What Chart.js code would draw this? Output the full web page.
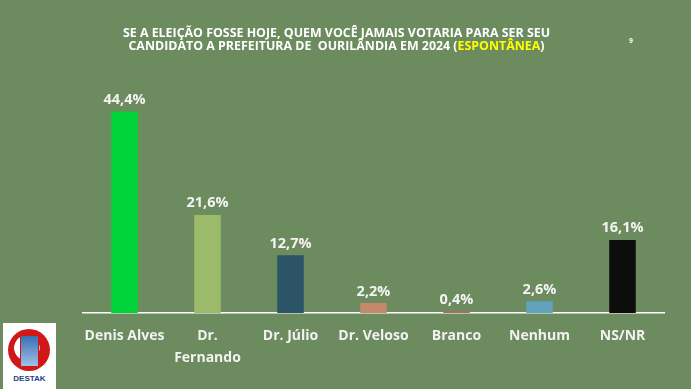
<!DOCTYPE html>
<html>
<head>
<meta charset="utf-8">
<script src="https://cdn.jsdelivr.net/npm/chart.js@4.4.1/dist/chart.umd.min.js"></script>
<style>
  html, body { margin: 0; padding: 0; background: #6C8B5E; }
  #wrap { position: relative; width: 691px; height: 389px; overflow: hidden; background: #6C8B5E; }
  canvas { position: absolute; left: 0; top: 0; }
  .title { position: absolute; left: 0; width: 673px; text-align: center; color: #FFFFFF; line-height: 14px;
           font-family: "Open Sans", sans-serif; font-weight: bold; font-size: 12.4px; white-space: pre; }
  .yellow { color: #FFFF00; }
  #page { position: absolute; left: 629px; top: 37px; color: #fff; font: bold 7px "Liberation Sans", sans-serif; }
  #logo { position: absolute; left: 3px; top: 323px; width: 53px; height: 70px; background: #fff; }
  #logo .ring { position: absolute; left: 5px; top: 6px; width: 42px; height: 42px; border-radius: 50%;
                background: radial-gradient(circle at 45% 45%, #ffffff 0 38%, #d01818 40% 100%); }
  #logo .doc { position: absolute; left: 17px; top: 12px; width: 17px; height: 30px; background: linear-gradient(#3a6fb0, #9fc0e8); border: 1px solid #d01818; }
  #logo .txt { position: absolute; left: 0; width: 53px; top: 51px; text-align: center; color: #1c3f8a; font: bold 8px "Liberation Sans", sans-serif; }
</style>
</head>
<body>
<div id="wrap">
  <canvas id="c" width="691" height="389"></canvas>
  <div class="title" style="top:25.5px;">SE A ELEIÇÃO FOSSE HOJE, QUEM VOCÊ JAMAIS VOTARIA PARA SER SEU</div>
  <div class="title" style="top:38.5px;">CANDIDATO A PREFEITURA DE  OURILÂNDIA EM 2024 (<span class="yellow">ESPONTÂNEA</span>)</div>
  <div id="page">9</div>
  <div id="logo"><div class="ring"></div><div class="doc"></div><div class="txt">DESTAK</div></div>
</div>
<script>
const categories = ["Denis Alves", ["Dr.", "Fernando"], "Dr. Júlio", "Dr. Veloso", "Branco", "Nenhum", "NS/NR"];
const values = [44.4, 21.6, 12.7, 2.2, 0.4, 2.6, 16.1];
const barColors = ["#00D43A", "#9BBB6A", "#2B5566", "#C4886A", "#B06B5A", "#62A2BA", "#0D0D0D"];

const valueLabels = {
  id: 'valueLabels',
  afterDatasetsDraw(chart) {
    const ctx = chart.ctx;
    const meta = chart.getDatasetMeta(0);
    ctx.save();
    ctx.fillStyle = '#F4F4F4';
    ctx.font = 'bold 14.5px "Open Sans", sans-serif';
    ctx.textAlign = 'center';
    ctx.textBaseline = 'alphabetic';
    meta.data.forEach((bar, i) => {
      const txt = values[i].toFixed(1).replace('.', ',') + '%';
      ctx.fillText(txt, bar.x, bar.y - 7.5);
    });
    ctx.restore();
  }
};

new Chart(document.getElementById('c'), {
  type: 'bar',
  data: {
    labels: categories,
    datasets: [{ data: values, backgroundColor: barColors, borderWidth: 0,
                 categoryPercentage: 1.0, barPercentage: 0.32 }]
  },
  options: {
    responsive: false,
    animation: false,
    layout: { padding: { left: 83, right: 27, top: 86, bottom: 0 } },
    plugins: { legend: { display: false }, tooltip: { enabled: false }, title: { display: false } },
    scales: {
      x: {
        grid: { display: false, drawTicks: false },
        border: { display: true, color: '#FFFFFF', width: 1.5 },
        ticks: { color: '#F2F2F2', padding: 12, font: { family: '"Open Sans", sans-serif', weight: 'bold', size: 14, lineHeight: 1.55 }, maxRotation: 0, autoSkip: false },
        afterFit(scale) { scale.height = 76; }
      },
      y: { display: false, min: 0, max: 50 }
    }
  },
  plugins: [valueLabels]
});
</script>
</body>
</html>
